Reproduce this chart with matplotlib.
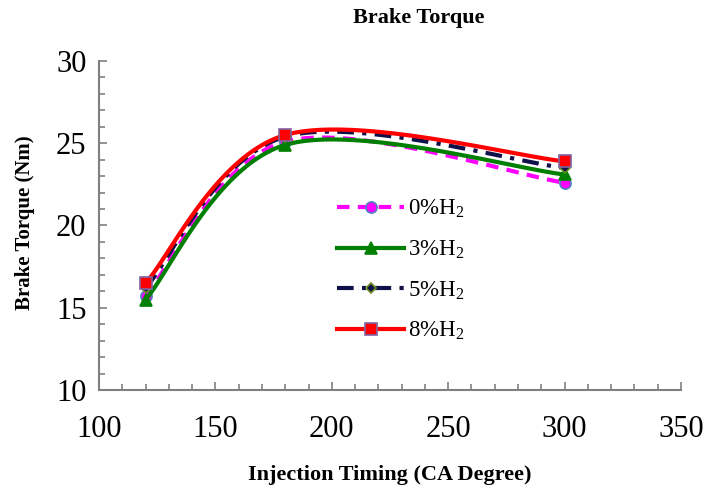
import numpy as np
import matplotlib
matplotlib.use("Agg")
import matplotlib.pyplot as plt
from matplotlib.ticker import MultipleLocator

# Injection timing (CA degree) and brake torque (Nm) per hydrogen fraction
timing = [120, 180, 300]
torque_0 = [15.7, 25.1, 22.6]
torque_3 = [15.5, 24.9, 23.1]
torque_5 = [16.2, 25.4, 23.5]
torque_8 = [16.5, 25.5, 23.9]
labels = ["0%H$_2$", "3%H$_2$", "5%H$_2$", "8%H$_2$"]


def smooth(xs, ys, n=60):
    """Cubic Bezier smoothing through the points (spreadsheet-style)."""
    P = np.column_stack([xs, ys]).astype(float)
    out = []
    for i in range(len(P) - 1):
        p0, p3 = P[i], P[i + 1]
        prev = P[i - 1] if i > 0 else P[i]
        nxt = P[i + 2] if i + 2 < len(P) else P[i + 1]
        c1 = p0 + (p3 - prev) / 6.0
        c2 = p3 - (nxt - p0) / 6.0
        t = np.linspace(0, 1, n)[:, None]
        seg = ((1 - t) ** 3) * p0 + 3 * ((1 - t) ** 2) * t * c1 \
            + 3 * (1 - t) * t ** 2 * c2 + t ** 3 * p3
        out.append(seg if i == 0 else seg[1:])
    pts = np.vstack(out)
    return pts[:, 0], pts[:, 1]


plt.rcParams["font.family"] = ["Liberation Serif", "DejaVu Serif"]
plt.rcParams["mathtext.fontset"] = "custom"
plt.rcParams["mathtext.rm"] = "Liberation Serif"
plt.rcParams["mathtext.it"] = "Liberation Serif:italic"

fig = plt.figure(figsize=(7.03, 4.91), dpi=100)
ax = fig.add_axes([0.1408, 0.2057, 0.8279, 0.6701])

styles = [
    dict(color="#FF00FF", ls=(0, (3, 2)), marker="o", mfc="#FF00FF", mec="#4F81BD", ms=8),
    dict(color="#008000", ls="-", marker="^", mfc="#008000", mec="#008000", ms=9),
    dict(color="#10104A", ls=(0, (4, 2, 1, 2)), marker="D", mfc="#10104A", mec="#6B8E23", ms=5),
    dict(color="#FF0000", ls="-", marker="s", mfc="#FF0000", mec="#8064A2", ms=9),
]
series = [torque_0, torque_3, torque_5, torque_8]

handles = []
for ys, st, lab in zip(series, styles, labels):
    sx, sy = smooth(timing, ys)
    ax.plot(sx, sy, color=st["color"], ls=st["ls"], lw=3, solid_capstyle="butt")
    ax.plot(timing, ys, ls="none", marker=st["marker"], mfc=st["mfc"],
            mec=st["mec"], ms=st["ms"], mew=1.2)
    h, = ax.plot([], [], color=st["color"], ls=st["ls"], lw=3, marker=st["marker"],
                 mfc=st["mfc"], mec=st["mec"], ms=st["ms"], mew=1.2, label=lab)
    handles.append(h)

ax.set_xlim(100, 350)
ax.set_ylim(10, 30)
ax.xaxis.set_major_locator(MultipleLocator(50))
ax.xaxis.set_minor_locator(MultipleLocator(10))
ax.yaxis.set_major_locator(MultipleLocator(5))
ax.yaxis.set_minor_locator(MultipleLocator(1))

for side in ("top", "right"):
    ax.spines[side].set_visible(False)
for side in ("left", "bottom"):
    ax.spines[side].set_color("#808080")
    ax.spines[side].set_linewidth(1.5)

ax.tick_params(which="both", direction="in", color="#808080", width=1.2)
ax.tick_params(which="major", length=6, labelsize=22)
ax.tick_params(which="minor", length=4)
ax.tick_params(axis="x", which="major", pad=18)
ax.tick_params(axis="y", which="major", pad=9)

ax.set_xlabel("Injection Timing (CA Degree)", fontsize=16, fontweight="bold")
ax.xaxis.set_label_coords(0.5, -0.258)
ax.xaxis.label.set_va("center")
ax.set_ylabel("Brake Torque (Nm)", fontsize=15, fontweight="bold")
ax.yaxis.set_label_coords(-0.127, 0.51)
ax.yaxis.label.set_va("center")
fig.text(353 / 703, 0.963, "Brake Torque", ha="left", va="center",
         fontsize=16, fontweight="bold")

ax.legend(handles=handles, loc="upper left", bbox_to_anchor=(0.39, 0.618),
          frameon=False, fontsize=16.5, handlelength=2.9, handletextpad=0.2,
          labelspacing=0.8, borderpad=0)

fig.savefig("out.png", dpi=100)
